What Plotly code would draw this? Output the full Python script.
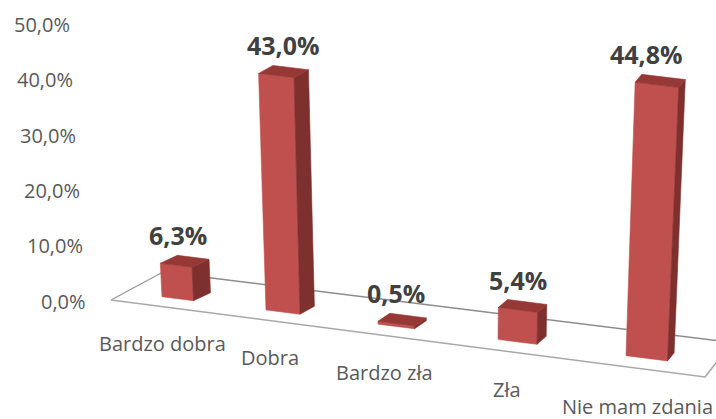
import plotly.graph_objects as go

# ---- data ----
categories = ["Bardzo dobra", "Dobra", "Bardzo zła", "Zła", "Nie mam zdania"]
values = [6.3, 43.0, 0.5, 5.4, 44.8]
tick_values = [0, 10, 20, 30, 40, 50]
tick_labels = ["0,0%", "10,0%", "20,0%", "30,0%", "40,0%", "50,0%"]

# ---- style ----
FRONT = "#C0504D"
TOP = "#963836"
SIDE = "#7E302E"
AXIS_TXT = "#595959"
LBL_TXT = "#404040"
FONT = "Open Sans"

W, H = 716, 419

# ---- simple perspective projection (screen px) ----
X0, SP, SQ = 162.0, 100.0, 4.0
Y0, SLOPE = 296.7, 0.127
W0, WG = 31.5, 2.5
K0, KG = 5.3, 0.2
VP_X, LEAN = 440.0, 0.00018


def lean(x):
    return (x - VP_X) * LEAN


def bar_faces(i, v):
    xl = X0 + SP * i + SQ * i * i
    yl = Y0 + SLOPE * (xl - X0)
    w = W0 + WG * i
    xr, yr = xl + w, yl + SLOPE * w
    h = (K0 + KG * i) * v
    dx, dy = 17.0 - 2.6 * i, -8.0
    BL, BR = (xl, yl), (xr, yr)
    TL = (xl + lean(xl) * h, yl - h)
    TR = (xr + lean(xr) * h, yr - h)
    TLb = (TL[0] + dx, TL[1] + dy)
    TRb = (TR[0] + dx, TR[1] + dy)
    BRb = (BR[0] + dx, BR[1] + dy)
    front = [BL, BR, TR, TL]
    side = [BR, BRb, TRb, TR]
    top = [TL, TR, TRb, TLb]
    return front, side, top, (xl + w / 2, TL[1]), xl + w / 2


def poly(pts, color):
    xs = [p[0] for p in pts] + [pts[0][0]]
    ys = [p[1] for p in pts] + [pts[0][1]]
    return go.Scatter(x=xs, y=ys, mode="lines", fill="toself", fillcolor=color,
                      line=dict(color=color, width=0.6), hoverinfo="skip",
                      showlegend=False)


def line(pts, color, width):
    return go.Scatter(x=[p[0] for p in pts], y=[p[1] for p in pts], mode="lines",
                      line=dict(color=color, width=width), hoverinfo="skip",
                      showlegend=False)


fig = go.Figure()

# floor
FL, FR, BRc, BLc = (111, 300), (705, 377), (732, 342.5), (163, 272)
fig.add_trace(poly([FL, FR, BRc, BLc], "white"))
fig.add_trace(line([BLc, BRc], "#8C8C8C", 1.4))
fig.add_trace(line([FL, BLc], "#9A9A9A", 1.4))
fig.add_trace(line([FL, FR, BRc], "#A8A8A8", 1.6))

annotations = []
for i, (cat, v) in enumerate(zip(categories, values)):
    front, side, top, (cx, ty), bx = bar_faces(i, v)
    fig.add_trace(poly(front, FRONT))
    fig.add_trace(poly(side, SIDE))
    fig.add_trace(poly(top, TOP))
    annotations.append(dict(x=bx, y=ty - 28, text="<b>%s%%</b>" % ("%.1f" % v).replace(".", ","),
                            showarrow=False, xanchor="center", yanchor="middle",
                            font=dict(family=FONT, size=25, color=LBL_TXT)))
    lx = bx - 15 + 1.5 * i
    ly = 373.8 + 0.134 * (lx - 392.2)
    annotations.append(dict(x=lx, y=ly, text=cat, showarrow=False,
                            xanchor="center", yanchor="middle",
                            font=dict(family=FONT, size=20, color=AXIS_TXT)))

for tv, tl in zip(tick_values, tick_labels):
    annotations.append(dict(x=88 - 0.32 * tv, y=301 - 5.53 * tv, text=tl,
                            showarrow=False, xanchor="right", yanchor="middle",
                            font=dict(family=FONT, size=20, color=AXIS_TXT)))

fig.update_layout(
    width=W, height=H, margin=dict(l=0, r=0, t=0, b=0),
    paper_bgcolor="white", plot_bgcolor="white",
    xaxis=dict(range=[0, W], visible=False, fixedrange=True),
    yaxis=dict(range=[H, 0], visible=False, fixedrange=True),
    annotations=annotations, showlegend=False,
)

fig.write_html(
    "out.html",
    config={"displayModeBar": False},
    post_script="document.body.style.margin='0';document.body.style.overflow='hidden';",
)
